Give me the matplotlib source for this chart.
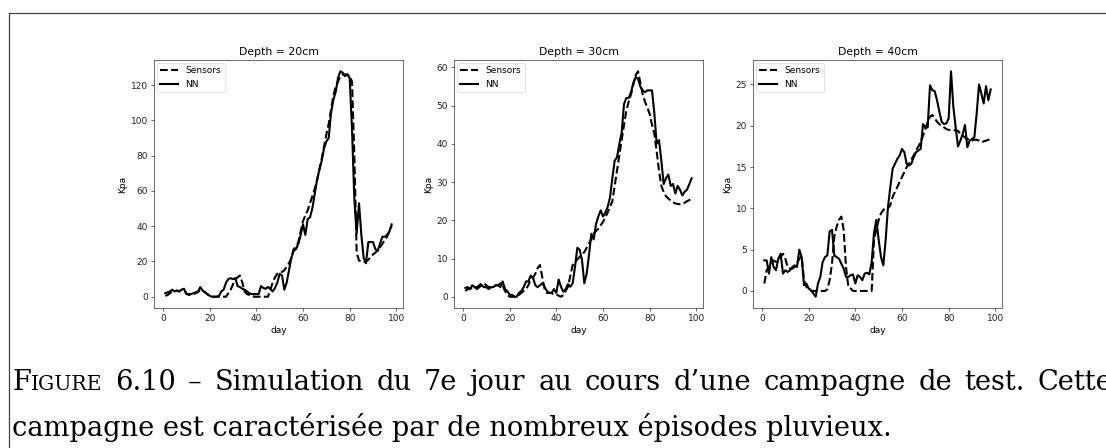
import matplotlib
matplotlib.use("Agg")
import matplotlib.pyplot as plt
from matplotlib.lines import Line2D
import numpy as np

# ---- data -----------------------------------------------------------------
days = list(range(1, 99))

depth_titles = ["Depth = 20cm", "Depth = 30cm", "Depth = 40cm"]

sensors_20 = [0.5, 1, 2, 3, 3, 3.5, 3, 4, 4, 2,
              1, 1, 1.5, 2, 2.5, 4, 3.5, 2.5, 1.5, 0.5,
              0, 0, 0, 0, 0, 0, 0, 2, 4, 7,
              10, 11, 12, 8, 3, 1.5, 1, 0.5, 0, 0,
              0, 0, 0, 0, 0, 4, 8, 11, 13, 14,
              14, 15, 17, 19, 22, 27, 28, 31, 37, 43,
              46, 49, 53, 57, 61, 66, 72, 78, 85, 92,
              98, 106, 114, 119, 122, 125, 126, 126, 126, 125,
              122, 80, 25, 20.5, 20, 19.5, 20, 21, 22.5, 24,
              25, 26.5, 28, 30, 32, 34, 37, 40]
nn_20 = [2, 2.5, 3, 4, 3, 3.5, 3, 4, 4.5, 1.5,
         1.5, 1.5, 2, 2.5, 3, 5.5, 3.5, 2.5, 1.5, 0.5,
         0, 0, 0, 0.5, 3, 4, 8, 10, 10.5, 10,
         10.5, 6, 5.5, 4.5, 4, 3, 2, 1.5, 1.5, 1.5,
         1.5, 6, 5, 4.5, 5.5, 4.5, 3, 5, 8, 13,
         12, 4, 8, 15, 22, 26, 27, 30, 35, 41,
         35, 44, 45, 50, 58, 66, 72, 77, 84, 88,
         90, 104, 111.5, 116, 124, 127.8, 127, 125, 126, 124,
         95, 55, 36, 53, 35, 22, 19, 31, 31, 31,
         27, 26, 30, 34, 34, 35, 37, 41]

sensors_30 = [1.5, 2, 2, 2.5, 2.5, 2.5, 3, 3.5, 3.5, 3,
              2.5, 2.5, 2.5, 3, 3, 3.5, 3, 1.5, 0.5, 0,
              0, 0, 0, 0.5, 1, 1.5, 2, 3, 4.5, 5,
              6, 7.5, 8.3, 5, 2, 1, 1, 1, 0.5, 0.5,
              0.3, 0, 0.4, 1.5, 2.6, 5.5, 8.3, 9, 9.8, 10.4,
              11, 11.7, 12.8, 13.9, 15.2, 16.5, 17.2, 17.8, 18.7, 19.6,
              20.8, 22, 23.5, 25, 29, 33, 37, 41, 45, 48.7,
              51, 53, 55.5, 58, 59, 56, 53, 51, 49.5, 47.8,
              45, 42.6, 38, 33, 29, 27.4, 26.3, 25.7, 25.2, 24.7,
              24.4, 24.3, 24.2, 24.3, 24.6, 25, 25.3, 25.6]
nn_30 = [2.3, 2.5, 2, 3, 2.5, 2, 2.5, 3, 2.5, 2.5,
         2, 2.5, 2.5, 3, 3, 2.5, 4, 2, 1.5, 0.5,
         0.5, 0, 0, 1, 1.5, 2.5, 4, 4, 5.5, 5,
         3, 2.5, 3, 3.5, 2.5, 1.5, 1, 1, 2, 1,
         4.5, 2.6, 1.3, 2, 3.3, 2.6, 3.5, 7.8, 12.8, 12.3,
         9.6, 3.5, 6, 10.9, 16.5, 15, 19, 21, 22.6, 21,
         22, 23.5, 26, 31, 35.6, 36.5, 40, 43, 50.4, 52,
         52, 53.5, 56, 57.5, 57, 55, 54, 53.5, 54, 54,
         54, 48, 40, 41, 35.6, 29.5, 31, 32, 29, 29.5,
         27, 29, 28, 26.5, 27.5, 28, 29.5, 31]

sensors_40 = [0.9, 2.5, 2.9, 3.3, 3.7, 3.5, 3.9, 4.1, 4.5, 3.9,
              2.9, 2.7, 2.7, 2.9, 3.3, 3.9, 4.2, 1.3, 0.5, 0.3,
              0, 0, 0, 0, 0, 0, 0, 0.2, 1.3, 3.3,
              6.6, 7.8, 8.6, 9, 7.4, 2.9, 0.5, 0.3, 0, 0,
              0, 0, 0, 0, 0, 0, 0, 6.2, 7.4, 8.6,
              9.4, 9.8, 10.1, 10, 10.4, 11.4, 12, 12.6, 13.2, 13.8,
              14.4, 15, 15.4, 15.9, 16.4, 17, 17.5, 18, 18.8, 19.6,
              20.5, 21.1, 21.3, 20.9, 20.5, 20.2, 20, 19.8, 19.6, 19.5,
              19.5, 19.5, 19.4, 19.4, 19, 18.8, 18.6, 18.4, 18.3, 18.2,
              18.3, 18.3, 18.2, 18, 18.1, 18.2, 18.3, 18.4]
nn_40 = [3.7, 3.7, 2.1, 4.1, 2.9, 2.5, 3.9, 4.5, 2.1, 2.5,
         2.3, 2.5, 2.9, 3.1, 2.9, 5, 4.1, 0.7, 0.9, 0.3,
         0.1, -0.3, -0.7, 0.9, 1.7, 3.5, 4.1, 4.3, 7.2, 7.4,
         4.3, 4.1, 3.9, 3.3, 2.7, 1.7, 1.7, 1.9, 2, 0.9,
         1.9, 1.7, 1.3, 2.1, 2.2, 2, 3.5, 7, 8.6, 6.2,
         4.1, 3.1, 6.2, 10.2, 12.6, 14.8, 15.4, 16, 16.4, 17.2,
         16.8, 15.4, 15.2, 15.4, 16.2, 16.8, 17, 17.2, 20.2, 19.8,
         19.8, 24.9, 24.3, 24.2, 23.1, 21.7, 20.5, 20.2, 20.3, 20.9,
         26.6, 22.3, 19.8, 17.5, 18.2, 19, 20.1, 17.4, 18.2, 18.4,
         18.6, 21.5, 25, 23.9, 22.7, 24.8, 23.1, 24.4]

sensors_all = [sensors_20, sensors_30, sensors_40]
nn_all = [nn_20, nn_30, nn_40]

# first caption line as words; it starts with "Figure" in small capitals
caption_words1 = ["6.10", "\u2013", "Simulation", "du", "7e", "jour", "au", "cours",
                  "d\u2019une", "campagne", "de", "test.", "Cette"]
caption_line2 = "campagne est caract\u00e9ris\u00e9e par de nombreux \u00e9pisodes pluvieux."

# ---- figure ---------------------------------------------------------------
W, H = 1106, 448
fig = plt.figure(figsize=(W / 100, H / 100), dpi=100)

# page frame (left and top rules)
frame_kw = dict(color="#444444", lw=0.9, transform=fig.transFigure)
fig.add_artist(Line2D([9 / W, 9 / W], [0, 1 - 13 / H], **frame_kw))
fig.add_artist(Line2D([9 / W, 1], [1 - 13 / H, 1 - 13 / H], **frame_kw))

lefts = [154 / W, 454 / W, 753 / W]
ax_w = 249 / W
ax_b = 1 - 308 / H
ax_h = (308 - 60) / H

fs = 6.5
for left, title, sens, nn in zip(lefts, depth_titles, sensors_all, nn_all):
    ax = fig.add_axes([left, ax_b, ax_w, ax_h])
    ax.plot(days, sens, color="black", ls="--", lw=1.5, label="Sensors")
    ax.plot(days, nn, color="black", ls="-", lw=1.5, label="NN")
    ax.set_title(title, fontsize=7.8, pad=3.5)
    ax.set_xlabel("day", fontsize=fs, labelpad=2.4)
    ax.set_ylabel("Kpa", fontsize=fs, labelpad=2.4)
    ax.set_xticks([0, 20, 40, 60, 80, 100])
    ax.tick_params(labelsize=fs, length=2.1, width=0.5, pad=2.1, colors="#222222")
    for sp in ax.spines.values():
        sp.set_linewidth(0.5)
        sp.set_color("#333333")
    leg = ax.legend(loc="upper left", fontsize=fs, handlelength=2.0,
                    borderpad=0.4, labelspacing=0.5, handletextpad=0.8,
                    borderaxespad=0.3)
    leg.get_frame().set_linewidth(0.5)

# caption: justified first line, natural second line
cap_font = "DejaVu Serif"
cap_size = 19.6
renderer = fig.canvas.get_renderer()
x0 = 12 / W
right_edge = 1112 / W
y1 = 1 - 390 / H
y2 = 1 - 436 / H

t = fig.text(x0, y1, "F", fontsize=cap_size, family=cap_font, va="baseline")
x = t.get_window_extent(renderer=renderer).x1 / W
t = fig.text(x, y1, "IGURE", fontsize=cap_size * 0.75, family=cap_font, va="baseline")
first_end = t.get_window_extent(renderer=renderer).x1 / W

word_artists = [fig.text(0, y1, w, fontsize=cap_size, family=cap_font, va="baseline")
                for w in caption_words1]
widths = [a.get_window_extent(renderer=renderer).width / W for a in word_artists]
gap = (right_edge - first_end - sum(widths)) / len(caption_words1)
x = first_end + gap
for a, w in zip(word_artists, widths):
    a.set_x(x)
    x += w + gap

fig.text(x0, y2, caption_line2, fontsize=cap_size, family=cap_font, va="baseline", ha="left")

fig.savefig("out.png", dpi=100)
